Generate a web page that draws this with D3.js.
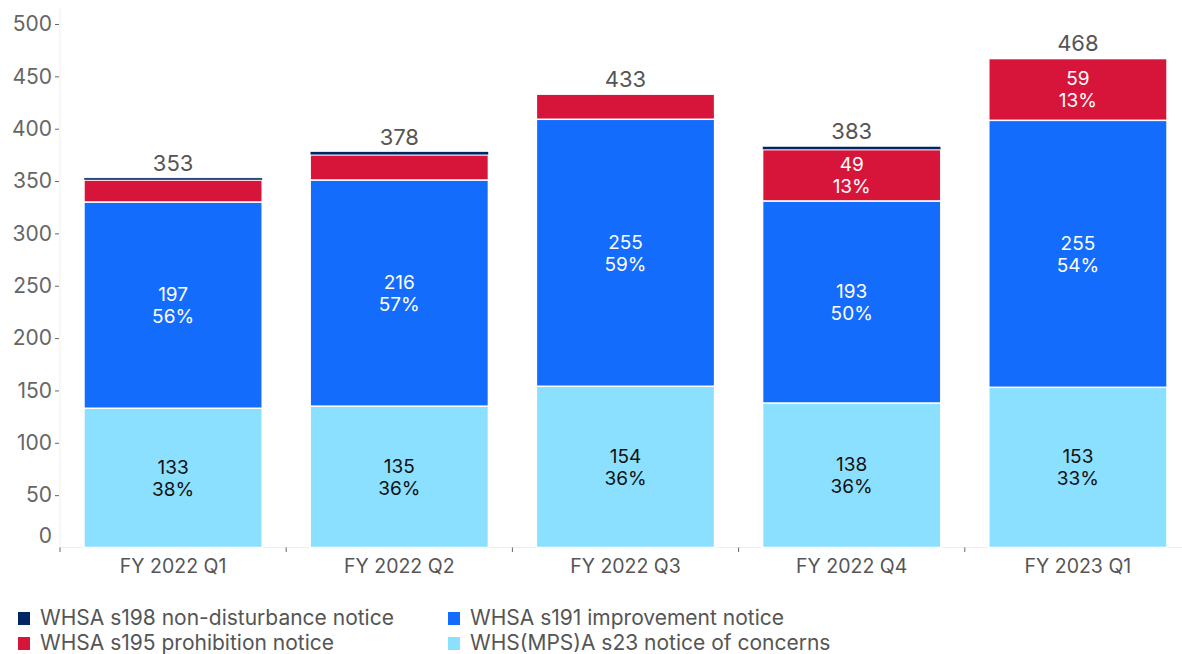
<!DOCTYPE html>
<html><head><meta charset="utf-8">
<script src="https://cdn.jsdelivr.net/npm/d3@7"></script>
<style>
html,body{margin:0;padding:0;background:#fff;}
svg{display:block;font-family:Inter, "Noto Sans", sans-serif;}
</style></head>
<body>
<svg id="chart" width="1182" height="654"></svg>
<script>
const categories = ["FY 2022 Q1","FY 2022 Q2","FY 2022 Q3","FY 2022 Q4","FY 2023 Q1"];
const s23  = [133, 135, 154, 138, 153];
const s191 = [197, 216, 255, 193, 255];
const s195 = [21, 24, 24, 49, 59];
const s198 = [2, 3, 0, 3, 0];
const totals = [353, 378, 433, 383, 468];
const yTicks = [0,50,100,150,200,250,300,350,400,450,500];
const seriesNames = ["WHS(MPS)A s23 notice of concerns","WHSA s191 improvement notice","WHSA s195 prohibition notice","WHSA s198 non-disturbance notice"];
const seriesKeys = ["s23","s191","s195","s198"];
const colors = {s23:"#8ce0ff", s191:"#146cfd", s195:"#d7153a", s198:"#002664"};
const labelColors = {s23:"#111", s191:"#fff", s195:"#fff", s198:"#fff"};

const rows = categories.map((c,i)=>({cat:c, s23:s23[i], s191:s191[i], s195:s195[i], s198:s198[i], total:totals[i]}));

const svg = d3.select("#chart");
const x = d3.scaleBand().domain(categories).range([60,1191]).paddingInner(0.212).paddingOuter(0.106);
const y = d3.scaleLinear().domain([0,500]).range([547.5,24]);

// axis lines
svg.append("line").attr("x1",60).attr("x2",60).attr("y1",8).attr("y2",547.5).attr("stroke","#eee");
svg.append("line").attr("x1",60).attr("x2",1182).attr("y1",547.5).attr("y2",547.5).attr("stroke","#eee");

// y axis
const yg = svg.append("g").attr("transform","translate(59,0)")
  .call(d3.axisLeft(y).tickValues(yTicks).tickSize(4).tickPadding(3));
yg.select(".domain").remove();
yg.selectAll(".tick line").attr("stroke","#666");
yg.selectAll(".tick text").attr("fill","#666").style("font-size","21px").style("font-family","Inter, sans-serif");
yg.selectAll(".tick").filter(d=>d===0).select("line").remove();
yg.selectAll(".tick").filter(d=>d===0).select("text").attr("dy","-0.25em");

// x axis ticks at band boundaries
const step = x.step();
const bounds = categories.map(c=>x(c)-x.paddingInner()*step/2);
bounds[0] = 60;
svg.selectAll(".xt").data(bounds).join("line").attr("class","xt")
  .attr("x1",d=>d).attr("x2",d=>d).attr("y1",547.5).attr("y2",552).attr("stroke","#666");
svg.selectAll(".xl").data(categories).join("text").attr("class","xl")
  .attr("x",d=>x(d)+x.bandwidth()/2).attr("y",573).attr("text-anchor","middle")
  .attr("fill","#555").style("font-size","19.5px").text(d=>d);

// stacks
const stack = d3.stack().keys(seriesKeys)(rows);
const g = svg.append("g");
stack.forEach(layer=>{
  g.selectAll(".b-"+layer.key).data(layer.filter(d=>d[1]>d[0])).join("rect")
    .attr("x",d=>x(d.data.cat)).attr("width",x.bandwidth())
    .attr("y",d=>y(d[1])).attr("height",d=>Math.max(0,y(d[0])-y(d[1])))
    .attr("fill",colors[layer.key]).attr("stroke","#fff").attr("stroke-width",d=>(d[1]-d[0])>4?1.5:0.5);
});
// segment labels
stack.forEach(layer=>{
  layer.forEach(d=>{
    const v = d[1]-d[0];
    if (v < 40) return;
    const cx = x(d.data.cat)+x.bandwidth()/2;
    const cy = (y(d[0])+y(d[1]))/2;
    const t = g.append("text").attr("text-anchor","middle").attr("fill",labelColors[layer.key]).style("font-size","19px");
    t.append("tspan").attr("x",cx).attr("y",cy-4).text(v);
    t.append("tspan").attr("x",cx).attr("y",cy+18).text(Math.round(v/d.data.total*100)+"%");
  });
});
// totals
g.selectAll(".tot").data(rows).join("text").attr("class","tot")
  .attr("x",d=>x(d.cat)+x.bandwidth()/2).attr("y",d=>y(d.total)-7)
  .attr("text-anchor","middle").attr("fill","#555").style("font-size","22px").text(d=>d.total);

// legend
const legendItems = [
  {key:"s198", name:seriesNames[3], col:0, row:0},
  {key:"s191", name:seriesNames[1], col:1, row:0},
  {key:"s195", name:seriesNames[2], col:0, row:1},
  {key:"s23",  name:seriesNames[0], col:1, row:1}
];
const lg = svg.append("g");
legendItems.forEach(it=>{
  const lx = it.col===0 ? 18 : 448;
  const ly = 618 + it.row*25;
  lg.append("rect").attr("x",lx).attr("y",ly-6).attr("width",12).attr("height",13).attr("fill",colors[it.key]);
  lg.append("text").attr("x",lx+22).attr("y",ly+7).attr("fill","#555").style("font-size","21px").text(it.name);
});
</script>
</body></html>
